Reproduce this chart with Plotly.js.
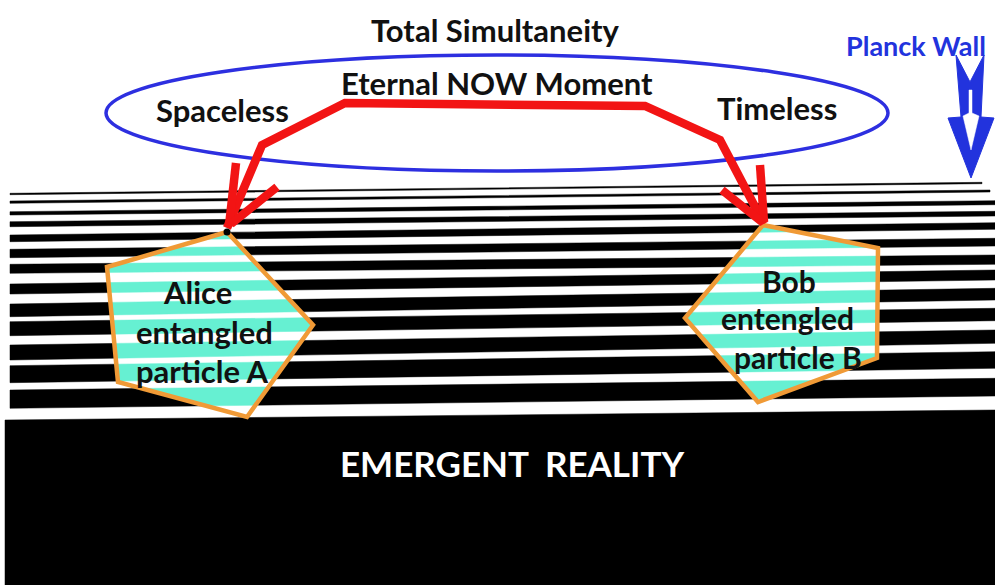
<!DOCTYPE html>
<html>
<head>
<meta charset="utf-8">
<script src="https://cdn.plot.ly/plotly-3.0.1.min.js"></script>
<style>html,body{margin:0;padding:0;background:#fff;}#chart{width:995px;height:585px;}</style>
</head>
<body>
<div id="chart"></div>
<script>
// ---- data (pixel-space coordinates of the diagram) ----
// horizontal stripes: y of top/bottom edge at left end and right end
const stripeX0 = [10, 10, 10, 10, 10, 10, 10, 10, 10, 10, 10, 10, 10];
const stripeX1 = [982, 990, 995, 995, 995, 995, 995, 995, 995, 995, 995, 995, 995];
const stripeTopL = [193.3, 201, 211.7, 221.7, 235, 249.3, 264.3, 284, 304, 321.7, 345, 365.7, 390];
const stripeBotL = [194.7, 203.3, 215, 226.7, 241.7, 257.7, 273.3, 294, 316.7, 335.7, 360, 382.7, 408.3];
const stripeTopR = [182.3, 190, 200.7, 211.3, 222.7, 238.3, 255, 270, 288.3, 308.3, 330, 351.7, 378.3];
const stripeBotR = [183.7, 192, 204.7, 216, 229.3, 246, 264.3, 280, 300, 320.7, 343.3, 368.3, 396];

// emergent reality block
const blockX = [5, 995, 995, 5];
const blockY = [420, 410, 585, 585];

// particle pentagons
const aliceX = [227, 313, 247, 118, 107];
const aliceY = [232, 325, 417, 382, 267];
const bobX = [763, 878, 877, 758, 685];
const bobY = [225, 248, 358, 402, 318];

// ellipse bounding box [x0, y0, x1, y1]
const ellipseBox = [106, 55, 888, 171];

// red connection path and arrow barbs
const redPathX = [227, 262, 345, 645, 720, 764];
const redPathY = [228, 145, 103, 106, 140, 224];
const barbsX = [236, 229, null, 277, 231, null, 760, 764, null, 722, 762];
const barbsY = [163, 226, null, 187, 224, null, 165, 222, null, 190, 222];

// Planck wall arrow
const planckOuterX = [956, 970, 984, 981, 994, 971, 948, 961];
const planckOuterY = [55, 82, 55, 117, 118, 178, 118, 117];
const planckInnerX = [969, 972, 972, 979, 971, 963, 969];
const planckInnerY = [90, 90, 113, 116, 150, 116, 113];

// text labels
const labelText = ['Total Simultaneity', 'Eternal NOW Moment', 'Spaceless', 'Timeless',
  'Alice', 'entangled', 'particle A', 'Bob', 'entengled', 'particle B'];
const labelX = [495, 496.5, 222, 776.5, 197.5, 204.5, 202, 788.5, 787.5, 798];
const labelY = [30, 83, 110, 107.5, 291.7, 331.7, 371, 281, 318, 357];
const labelSize = [31, 31, 31, 31, 31, 31, 31, 30, 30, 30];
const planckText = 'Planck Wall';
const planckPos = [916, 45];
const emergentText = 'EMERGENT\u00a0 REALITY';
const emergentPos = [512, 463];

// ---- colours ----
const AQUA = '#66F0D2';
const ORANGE = '#F09A36';
const RED = '#F21414';
const BLUE = '#2D2FE0';
const PLANCK_BLUE = '#2233DD';

// ---- helpers ----
function withGaps(polys, idx) {
  const out = [];
  polys.forEach((p, i) => { p.forEach(pt => out.push(pt[idx])); out.push(p[0][idx]); if (i < polys.length - 1) out.push(null); });
  return out;
}
function signedArea(poly) {
  let s = 0;
  for (let i = 0; i < poly.length; i++) { const a = poly[i], b = poly[(i + 1) % poly.length]; s += a[0] * b[1] - b[0] * a[1]; }
  return s / 2;
}
function clipPoly(subject, clip) {
  const area = signedArea(clip);
  let output = subject.slice();
  for (let i = 0; i < clip.length && output.length; i++) {
    const a = clip[i], b = clip[(i + 1) % clip.length];
    const cr = p => ((b[0] - a[0]) * (p[1] - a[1]) - (b[1] - a[1]) * (p[0] - a[0])) * Math.sign(area);
    const input = output; output = [];
    for (let j = 0; j < input.length; j++) {
      const cur = input[j], prev = input[(j + input.length - 1) % input.length];
      const cc = cr(cur), cp = cr(prev);
      if (cc >= 0) {
        if (cp < 0) { const t = cp / (cp - cc); output.push([prev[0] + t * (cur[0] - prev[0]), prev[1] + t * (cur[1] - prev[1])]); }
        output.push(cur);
      } else if (cp >= 0) {
        const t = cp / (cp - cc); output.push([prev[0] + t * (cur[0] - prev[0]), prev[1] + t * (cur[1] - prev[1])]);
      }
    }
  }
  return output;
}

// stripe polygons
const stripes = stripeTopL.map((t, i) => [
  [stripeX0[i], stripeTopL[i]], [stripeX1[i], stripeTopR[i]],
  [stripeX1[i], stripeBotR[i]], [stripeX0[i], stripeBotL[i]]
]);
const alicePoly = aliceX.map((x, i) => [x, aliceY[i]]);
const bobPoly = bobX.map((x, i) => [x, bobY[i]]);
const aquaPolys = [];
[alicePoly, bobPoly].forEach(pg => stripes.forEach(s => { const c = clipPoly(s, pg); if (c.length >= 3) aquaPolys.push(c); }));

const base = { hoverinfo: 'skip', showlegend: false };
const traces = [];
// emergent block
traces.push(Object.assign({}, base, { x: blockX.concat([blockX[0]]), y: blockY.concat([blockY[0]]), mode: 'lines', fill: 'toself', fillcolor: '#000', line: { color: '#000', width: 0.5 } }));
// stripes
traces.push(Object.assign({}, base, { x: withGaps(stripes, 0), y: withGaps(stripes, 1), mode: 'lines', fill: 'toself', fillcolor: '#000', line: { color: '#000', width: 0.5 } }));
// pentagon white bases
[alicePoly, bobPoly].forEach(pg => traces.push(Object.assign({}, base, { x: withGaps([pg], 0), y: withGaps([pg], 1), mode: 'lines', fill: 'toself', fillcolor: '#fff', line: { color: '#fff', width: 0 } })));
// aqua stripes inside pentagons
traces.push(Object.assign({}, base, { x: withGaps(aquaPolys, 0), y: withGaps(aquaPolys, 1), mode: 'lines', fill: 'toself', fillcolor: AQUA, line: { color: AQUA, width: 0.5 } }));
// pentagon outlines
[alicePoly, bobPoly].forEach(pg => traces.push(Object.assign({}, base, { x: withGaps([pg], 0), y: withGaps([pg], 1), mode: 'lines', line: { color: ORANGE, width: 4.5 } })));
// red path + barbs
traces.push(Object.assign({}, base, { x: redPathX, y: redPathY, mode: 'lines', line: { color: RED, width: 8.5 } }));
traces.push(Object.assign({}, base, { x: barbsX, y: barbsY, mode: 'lines', connectgaps: false, line: { color: RED, width: 8.5 } }));
// black dot
traces.push(Object.assign({}, base, { x: [aliceX[0]], y: [aliceY[0]], mode: 'markers', marker: { color: '#000', size: 7 } }));
// Planck arrow
traces.push(Object.assign({}, base, { x: planckOuterX.concat([planckOuterX[0]]), y: planckOuterY.concat([planckOuterY[0]]), mode: 'lines', fill: 'toself', fillcolor: PLANCK_BLUE, line: { color: PLANCK_BLUE, width: 1 } }));
traces.push(Object.assign({}, base, { x: planckInnerX.concat([planckInnerX[0]]), y: planckInnerY.concat([planckInnerY[0]]), mode: 'lines', fill: 'toself', fillcolor: '#fff', line: { color: '#fff', width: 0.5 } }));

const FONT = 'Lato, "Open Sans", sans-serif';
const annotations = labelText.map((t, i) => ({
  x: labelX[i], y: labelY[i], xref: 'x', yref: 'y', text: t, showarrow: false,
  xanchor: 'center', yanchor: 'middle', font: { family: FONT, size: labelSize[i], color: '#111', weight: 700 }
}));
annotations.push({ x: planckPos[0], y: planckPos[1], xref: 'x', yref: 'y', text: planckText, showarrow: false,
  xanchor: 'center', yanchor: 'middle', font: { family: FONT, size: 27, color: PLANCK_BLUE, weight: 700 } });
annotations.push({ x: emergentPos[0], y: emergentPos[1], xref: 'x', yref: 'y', text: emergentText, showarrow: false,
  xanchor: 'center', yanchor: 'middle', font: { family: FONT, size: 35, color: '#fff', weight: 700 } });

const layout = {
  width: 995, height: 585,
  margin: { l: 0, r: 0, t: 0, b: 0, pad: 0 },
  paper_bgcolor: '#fff', plot_bgcolor: '#fff',
  showlegend: false,
  xaxis: { range: [0, 995], visible: false, fixedrange: true },
  yaxis: { range: [585, 0], visible: false, fixedrange: true },
  shapes: [{ type: 'circle', xref: 'x', yref: 'y', x0: ellipseBox[0], y0: ellipseBox[1], x1: ellipseBox[2], y1: ellipseBox[3],
    line: { color: BLUE, width: 3.5 }, fillcolor: 'rgba(0,0,0,0)', layer: 'below' }],
  annotations: annotations
};
Plotly.newPlot('chart', traces, layout, { staticPlot: true, displayModeBar: false });
</script>
</body>
</html>
